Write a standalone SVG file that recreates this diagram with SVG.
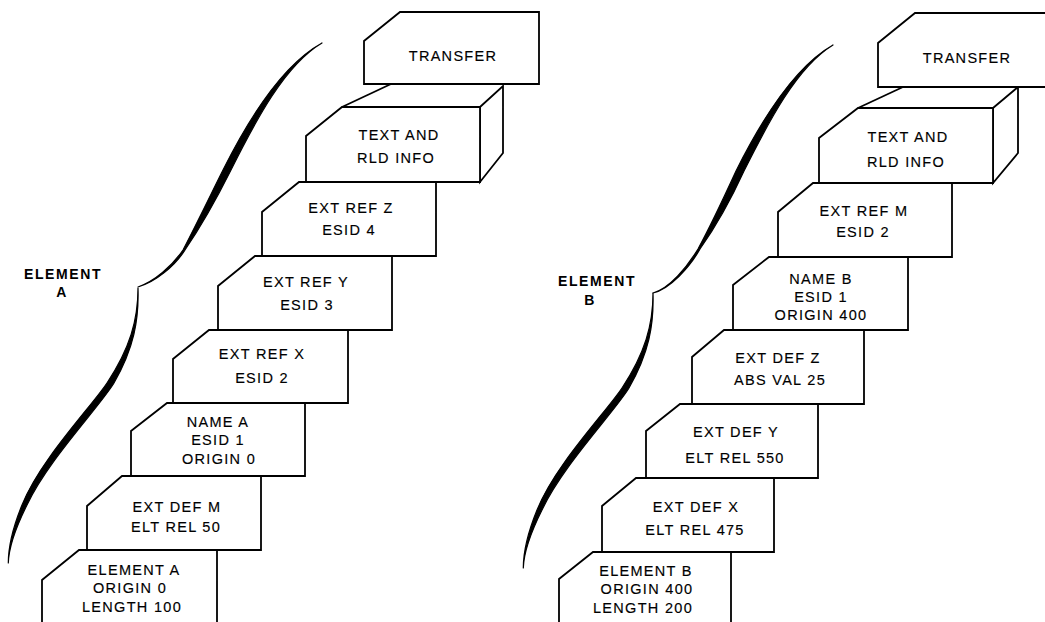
<svg xmlns="http://www.w3.org/2000/svg" width="1045" height="622" viewBox="0 0 1045 622">
  <style>
    .card { fill: #fff; stroke: #000; stroke-width: 1.8; stroke-linejoin: miter; }
    .edge { fill: none; stroke: #000; stroke-width: 1.8; }
    .t { font-family: "Liberation Sans", Arial, Helvetica, sans-serif; font-size: 14.5px; letter-spacing: 1.3px; text-anchor: middle; fill: #000; stroke: #000; stroke-width: 0.15; }
    .lbl { font-family: "Liberation Sans", Arial, Helvetica, sans-serif; font-size: 14px; font-weight: bold; letter-spacing: 1.6px; text-anchor: middle; fill: #000; }
    .swash { fill: #000; stroke: #000; stroke-width: 1.2; stroke-linejoin: round; }
  </style>
  <rect width="1045" height="622" fill="#fff"/>

  <!-- Element A: brace-like swash and label -->
  <g id="swash-a">
    <path class="swash" d="M322,43 C282,65 248,120 223,170 C211,194 196,225 183,250 C172,266 155,281 138,287 C155.5,282 175,266 185,250 C202,225 219,194 231,170 C256,120 285,65 322,43 Z"/>
    <path class="swash" d="M138,288 C138,320 130,348 107,383 C91,407 40,460 22,505 C13,527 8.3,548 8.3,563 C8.8,548 16,527 27,505 C48,460 99.5,407 114,383 C134,348 139,320 138,288 Z"/>
  </g>
  <g id="label-a">
    <text class="lbl" x="63" y="279">ELEMENT</text>
    <text class="lbl" x="62" y="297">A</text>
  </g>

  <!-- Element A card stack -->
  <g id="a-element">
    <path class="card" d="M42,630 L42,580 L79,550 L217,550 L217,630 Z"/>
    <text class="t" x="134" y="575">ELEMENT A</text>
    <text class="t" x="130" y="593">ORIGIN 0</text>
    <text class="t" x="132" y="612">LENGTH 100</text>
  </g>
  <g id="a-extdef-m">
    <path class="card" d="M87,550 L87,506 L122,476 L261,476 L261,550 Z"/>
    <text class="t" x="177" y="512">EXT DEF M</text>
    <text class="t" x="176" y="532">ELT REL 50</text>
  </g>
  <g id="a-name">
    <path class="card" d="M131,476 L131,431 L167,403 L305,403 L305,476 Z"/>
    <text class="t" x="218" y="427">NAME A</text>
    <text class="t" x="218" y="445">ESID 1</text>
    <text class="t" x="219" y="464">ORIGIN 0</text>
  </g>
  <g id="a-extref-x">
    <path class="card" d="M173,403 L173,359 L209,330 L348,330 L348,403 Z"/>
    <text class="t" x="262" y="359">EXT REF X</text>
    <text class="t" x="262" y="383">ESID 2</text>
  </g>
  <g id="a-extref-y">
    <path class="card" d="M218,330 L218,286 L255,256 L392,256 L392,330 Z"/>
    <text class="t" x="306" y="287">EXT REF Y</text>
    <text class="t" x="307" y="310">ESID 3</text>
  </g>
  <g id="a-extref-z">
    <path class="card" d="M262,256 L262,212 L299,182 L436,182 L436,256 Z"/>
    <text class="t" x="351" y="213">EXT REF Z</text>
    <text class="t" x="349" y="235">ESID 4</text>
  </g>
  <g id="a-text-rld">
    <path class="card" d="M480,107 L503,86 L503,153 L480,182 Z"/>
    <path class="edge" d="M342,107 L391,84"/>
    <path class="card" d="M306,182 L306,136 L342,107 L480,107 L480,182 Z"/>
    <text class="t" x="399" y="140">TEXT AND</text>
    <text class="t" x="396" y="163">RLD INFO</text>
  </g>
  <g id="a-transfer">
    <path class="card" d="M364,84 L364,41 L400,12 L539,12 L539,84 Z"/>
    <text class="t" x="453" y="61">TRANSFER</text>
  </g>

  <!-- Element B: brace-like swash and label -->
  <g id="swash-b">
    <path class="swash" d="M833,45 C794,67 761,121 736,171 C725,195 711,225 698,249 C687,267 670,288 653,293 C670,289 690,267 700,249 C717,225 733,195 744,171 C769,121 797,67 833,45 Z"/>
    <path class="swash" d="M653,293 C653,325 645,353 622,388 C606,412 555,465 537,510 C528,532 523.3,553 523.3,568 C523.8,553 531,532 542,510 C563,465 614.5,412 629,388 C649,353 654,325 653,293 Z"/>
  </g>
  <g id="label-b">
    <text class="lbl" x="597" y="286">ELEMENT</text>
    <text class="lbl" x="590" y="305">B</text>
  </g>

  <!-- Element B card stack -->
  <g id="b-element">
    <path class="card" d="M559,630 L559,579 L593,552 L731,552 L731,630 Z"/>
    <text class="t" x="646" y="576">ELEMENT B</text>
    <text class="t" x="647" y="594">ORIGIN 400</text>
    <text class="t" x="643" y="613">LENGTH 200</text>
  </g>
  <g id="b-extdef-x">
    <path class="card" d="M602,552 L602,506 L636,478 L774,478 L774,552 Z"/>
    <text class="t" x="696" y="512">EXT DEF X</text>
    <text class="t" x="695" y="535">ELT REL 475</text>
  </g>
  <g id="b-extdef-y">
    <path class="card" d="M646,478 L646,431 L680,404 L818,404 L818,478 Z"/>
    <text class="t" x="736" y="437">EXT DEF Y</text>
    <text class="t" x="735" y="463">ELT REL 550</text>
  </g>
  <g id="b-extdef-z">
    <path class="card" d="M692,404 L692,357 L724,330 L864,330 L864,404 Z"/>
    <text class="t" x="778" y="363">EXT DEF Z</text>
    <text class="t" x="780" y="385">ABS VAL 25</text>
  </g>
  <g id="b-name">
    <path class="card" d="M733,330 L733,285 L769,257 L908,257 L908,330 Z"/>
    <text class="t" x="821" y="284">NAME B</text>
    <text class="t" x="821" y="302">ESID 1</text>
    <text class="t" x="821" y="320">ORIGIN 400</text>
  </g>
  <g id="b-extref-m">
    <path class="card" d="M778,257 L778,212 L813,183 L952,183 L952,257 Z"/>
    <text class="t" x="864" y="216">EXT REF M</text>
    <text class="t" x="863" y="237">ESID 2</text>
  </g>
  <g id="b-text-rld">
    <path class="card" d="M993,108 L1018,87 L1018,153 L993,183 Z"/>
    <path class="edge" d="M858,108 L903,87"/>
    <path class="card" d="M819,183 L819,138 L858,108 L993,108 L993,183 Z"/>
    <text class="t" x="908" y="142">TEXT AND</text>
    <text class="t" x="906" y="167">RLD INFO</text>
  </g>
  <g id="b-transfer">
    <path class="card" d="M878,87 L878,43 L915,13 L1053,13 L1053,87 Z"/>
    <text class="t" x="967" y="63">TRANSFER</text>
  </g>
</svg>
